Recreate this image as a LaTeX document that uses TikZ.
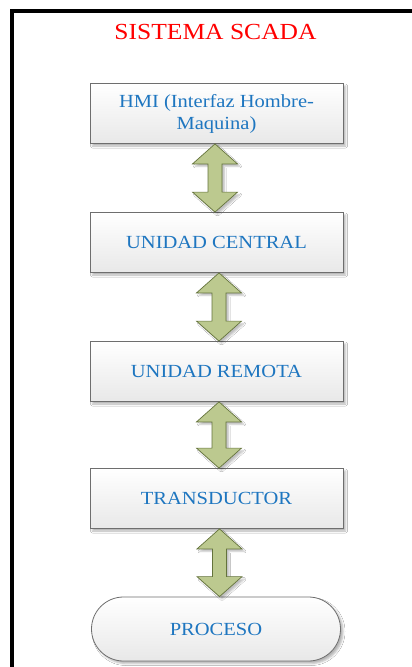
\documentclass[tikz,border=0pt]{standalone}
\usepackage{fontspec}
\setmainfont{Liberation Serif}[FakeStretch=1.11]
\usetikzlibrary{calc,shadows.blur,shapes.misc}

\definecolor{titlered}{RGB}{255,0,0}
\definecolor{textblue}{RGB}{30,118,192}
\definecolor{boxedge}{RGB}{110,110,110}
\definecolor{arrowfill}{RGB}{188,201,143}
\definecolor{arrowedge}{RGB}{100,115,60}

\tikzset{
  frameline/.style={line width=4pt, line join=miter},
  block/.style={draw=boxedge, line width=0.8pt,
    top color=white, bottom color=black!9,
    minimum width=253pt, minimum height=60pt, inner sep=2pt,
    text=textblue, align=center, font=\fontsize{18.5}{22}\selectfont,
    blur shadow={shadow xshift=2.5pt, shadow yshift=-2.5pt, shadow blur radius=2pt, shadow opacity=30}},
  terminal/.style={block, rounded rectangle, minimum height=64pt},
  linkarrow/.style={draw=arrowedge, line width=0.7pt, fill=arrowfill, line join=miter,
    blur shadow={shadow xshift=2.5pt, shadow yshift=-2.5pt, shadow blur radius=1.5pt, shadow opacity=25}},
}

% double-headed block arrow from the bottom of #1 to the top of #2, shifted by #3
\newcommand\linkboth[3]{%
  \path[linkarrow] let \p1=($(#1.south)+(#3,0)$), \p2=($(#2.north)+(#3,0)$) in
    (\x1,\y1) -- (\x1+22.5pt,\y1-20pt) -- (\x1+7pt,\y1-20pt) -- (\x1+7pt,\y2+20pt)
    -- (\x1+22.5pt,\y2+20pt) -- (\x1,\y2) -- (\x1-22.5pt,\y2+20pt) -- (\x1-7pt,\y2+20pt)
    -- (\x1-7pt,\y1-20pt) -- (\x1-22.5pt,\y1-20pt) -- cycle;
}

\begin{document}
\begin{tikzpicture}[x=1pt,y=-1pt]
  \useasboundingbox (0,0) rectangle (412,667);
  \fill[white] (0,0) rectangle (412,667);

  % frame on the top and left sides
  \draw[frameline] (12,680) -- (12,11) -- (420,11);

  % title
  \node[text=titlered, font=\fontsize{23}{26}\selectfont, anchor=base] (title) at (215.5,39) {SISTEMA SCADA};

  % blocks
  \node[block] (hmi) at (216.5,113.5) {HMI (Interfaz Hombre-\\Maquina)};
  \node[block] (central) at (216.5,242.5) {UNIDAD CENTRAL};
  \node[block] (remota) at (216.5,371.5) {UNIDAD REMOTA};
  \node[block] (trans) at (216.5,498.5) {TRANSDUCTOR};
  \node[terminal] (proceso) at (216,629) {PROCESO};

  % links
  \linkboth{hmi}{central}{-1.5pt}
  \linkboth{central}{remota}{2.5pt}
  \linkboth{remota}{trans}{2.5pt}
  \linkboth{trans}{proceso}{3pt}
\end{tikzpicture}
\end{document}
